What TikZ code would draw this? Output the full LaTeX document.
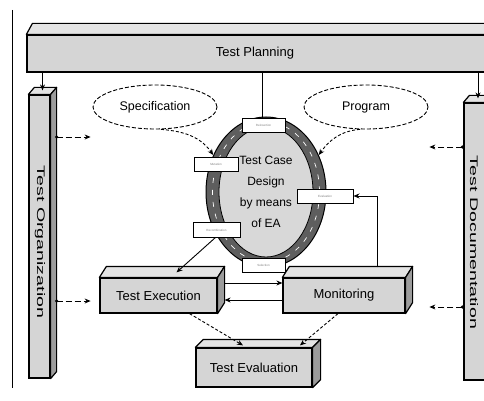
\documentclass[tikz,border=0pt]{standalone}
\usepackage{fontspec}
\setmainfont{Liberation Sans}
\usetikzlibrary{shapes.geometric,arrows.meta}
\definecolor{frontgray}{HTML}{D5D5D5}
\definecolor{topgray}{HTML}{E4E4E4}
\definecolor{sidegray}{HTML}{9C9C9C}
\definecolor{ringgray}{HTML}{5E5E5E}
\definecolor{coregray}{HTML}{D8D8D8}
\tikzset{
  face/.style={draw=black, line width=1.2pt, fill=frontgray, inner sep=0pt},
  arr/.style={-{Stealth[length=6pt,width=5pt]}, line width=0.9pt},
  dasharr/.style={arr, dash pattern=on 3pt off 2pt},
  lab/.style={draw=black, fill=white, line width=1pt, inner sep=0pt,
              font=\fontsize{3}{3}\selectfont, text=gray},
  oval/.style={ellipse, draw, fill=white, dash pattern=on 4pt off 2pt, line width=0.9pt,
               minimum width=124pt, minimum height=44pt, inner sep=0pt,
               font=\fontsize{12.5}{14}\selectfont},
  boxtext/.style={font=\fontsize{13}{15}\selectfont},
  pillartext/.style={rotate=-90, font=\fontsize{11}{13}\selectfont, inner sep=0pt},
  sidedot/.style={circle, fill=black, inner sep=0pt, minimum size=3.5pt}
}
\newcommand\drawcuboid[3]{%
  \filldraw[fill=topgray, line width=1.2pt, line join=round]
    (#1.north west) -- ++(#2,#3) -- ([shift={(#2,#3)}]#1.north east) -- (#1.north east) -- cycle;
  \filldraw[fill=sidegray, line width=1.2pt, line join=round]
    (#1.north east) -- ++(#2,#3) -- ([shift={(#2,#3)}]#1.south east) -- (#1.south east) -- cycle;
}
\begin{document}
\begin{tikzpicture}[x=1pt,y=-1pt]
\useasboundingbox (0,0) rectangle (484,401);
\clip (0,0) rectangle (484,401);

% left border line
\draw[line width=0.8pt] (12.5,10) -- (12.5,388);

% Test Planning bar
\node[face, minimum width=468pt, minimum height=37pt] (planning) at (261,53.5) {};
\drawcuboid{planning}{6}{-11}
\node[boxtext] (planningtext) at (255,53) {Test Planning};

% Pillars
\node[face, minimum width=21pt, minimum height=283pt] (org) at (39.5,236.5) {};
\drawcuboid{org}{6}{-7}
\node[pillartext] (orgtext) at (40,242) {\scalebox{1.78}[1]{Test Organization}};

\node[face, minimum width=22pt, minimum height=277pt] (doc) at (475,241.5) {};
\drawcuboid{doc}{6}{-7}
\node[pillartext] (doctext) at (474,242.5) {\scalebox{1.78}[1]{Test Documentation}};

% arrows planning -> pillars
\coordinate (orgtop) at ([shift={(3,-4)}]org.north);
\coordinate (doctop) at ([shift={(3,-4)}]doc.north);
\draw[arr] (planning.south -| orgtop) -- (orgtop);
\draw[arr] (planning.south -| doctop) -- (doctop);

% side arrows of pillars
\node[sidedot] (orgd1) at ([shift={(6,64.5)}]org.east) {};
\node[sidedot] (orgd2) at ([shift={(6,-99.5)}]org.east) {};
\coordinate (orge1) at ([xshift=34pt]orgd1.center);
\coordinate (orge2) at ([xshift=34pt]orgd2.center);
\draw[dasharr, dash pattern=on 6pt off 3pt] (orgd1.center) -- (orge1);
\draw[dasharr, dash pattern=on 6pt off 3pt] (orgd2.center) -- (orge2);
\node[sidedot] (docd1) at ([shift={(-1,65.5)}]doc.west) {};
\node[sidedot] (docd2) at ([shift={(-1,-94.5)}]doc.west) {};
\coordinate (doce1) at ([xshift=-33pt]docd1.center);
\coordinate (doce2) at ([xshift=-33pt]docd2.center);
\draw[dasharr, dash pattern=on 6pt off 3pt] (docd1.center) -- (doce1);
\draw[dasharr, dash pattern=on 6pt off 3pt] (docd2.center) -- (doce2);

% Specification and Program
\node[oval] (spec) at (155,107) {Specification};
\node[oval] (prog) at (366,107) {Program};

% Ring
\node[ellipse, draw, line width=1pt, fill=ringgray, minimum width=120pt, minimum height=150pt] (ring) at (266,192) {};
\draw[white, line width=0.7pt, dash pattern=on 5pt off 7pt] (266,192) ellipse [x radius=53.5, y radius=70];
\node[ellipse, draw, line width=0.8pt, fill=coregray, minimum width=94pt, minimum height=130pt,
      align=center, font=\fontsize{12}{21}\selectfont, inner sep=0pt] (core) at (266,192)
      {Test Case\\Design\\by means\\of EA};

% connector planning -> ring top
\draw[line width=0.9pt] (planning.south -| 262,0) -- (262,120);

% spec/prog -> ring
\draw[dasharr] (spec.-75) to[out=-5,in=125] (ring.145);
\draw[dasharr] (prog.-105) to[out=185,in=55] (ring.35);

% 3D boxes
\node[face, minimum width=117pt, minimum height=35pt] (exec) at (158.5,295.5) {};
\drawcuboid{exec}{7}{-11}
\node[boxtext] (exectext) at (exec.center) {Test Execution};

\node[face, minimum width=122pt, minimum height=35pt] (mon) at (344,295.5) {};
\drawcuboid{mon}{7}{-11}
\node[boxtext] (montext) at (mon.center) {Monitoring};

\node[face, minimum width=116pt, minimum height=39pt] (eval) at (254,367.5) {};
\drawcuboid{eval}{8}{-8}
\node[boxtext] (evaltext) at (eval.center) {Test Evaluation};

% ring -> execution
\draw[arr] (ring.222) -- ([shift={(18,-5)}]exec.north);

% exec <-> monitoring
\draw[arr] ([shift={(7,-12.5)}]exec.east) -- ([yshift=12.5pt]mon.west);
\draw[arr] ([yshift=-4.5pt]mon.west) -- ([shift={(7,4.5)}]exec.east);

% to evaluation
\draw[dasharr] ([xshift=31pt]exec.south) -- ([shift={(-11,-2)}]eval.north);
\draw[dasharr] ([xshift=-6pt]mon.south) -- ([shift={(46,-2)}]eval.north);

% Ring labels
\node[lab, minimum width=43pt, minimum height=13pt] (reins) at (263.5,125.5) {Reinsertion};
\node[lab, minimum width=44pt, minimum height=14pt] (mutat) at (216,164) {Mutation};
\node[lab, minimum width=56pt, minimum height=14pt] (evallab) at (325,196) {Evaluation};
\node[lab, minimum width=47pt, minimum height=15pt] (recomb) at (216.5,230) {Recombination};
\node[lab, minimum width=43pt, minimum height=14pt] (select) at (263.5,265.5) {Selection};

% monitoring -> evaluation label
\draw[arr] ([shift={(33,-10)}]mon.north) |- (evallab.east);
\end{tikzpicture}
\end{document}
